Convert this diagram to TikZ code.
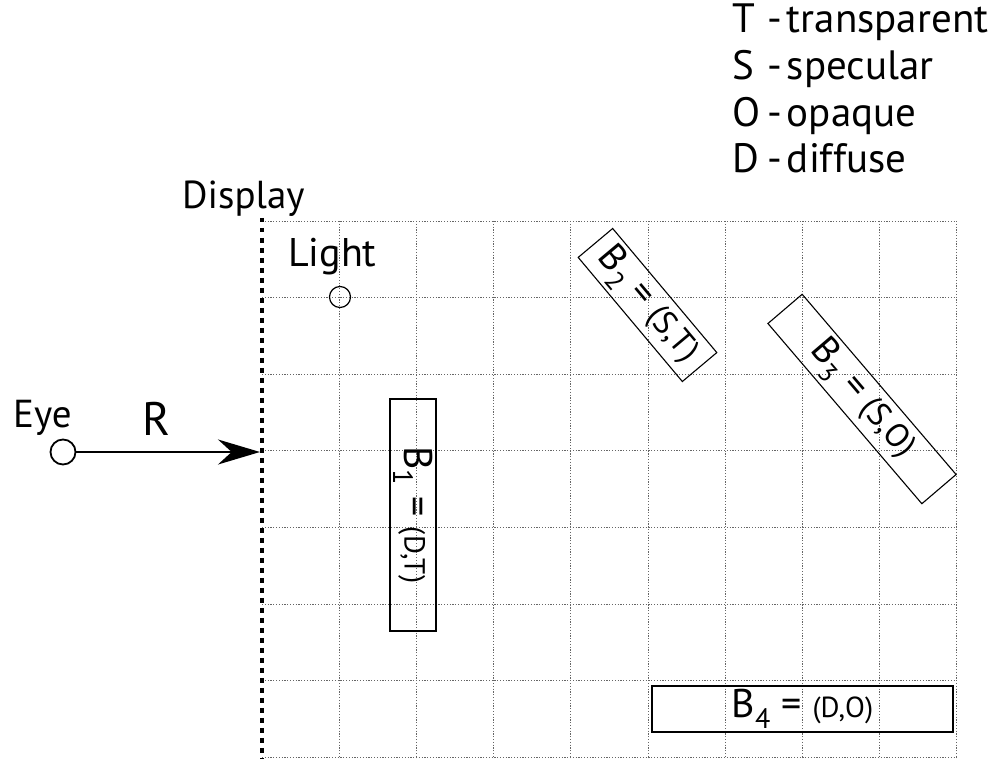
\documentclass[tikz,border=0pt]{standalone}
\usepackage{fontspec}
\setmainfont{PT Sans}
\usetikzlibrary{arrows.meta}
\begin{document}
\begin{tikzpicture}[x=1pt,y=-1pt,
  lbl/.style={inner sep=0pt, anchor=base west},
  gridline/.style={black!60, line width=0.8pt, dash pattern=on 1.2pt off 1.6pt},
  boxnode/.style={draw, line width=1.1pt, inner sep=0pt},
  ring/.style={draw, circle, inner sep=0pt, line width=1.2pt}]
\useasboundingbox (0,0) rectangle (992,759);
% grid
\foreach \i in {1,...,9} \draw[gridline] (262+77.2*\i,221) -- (262+77.2*\i,759);
\foreach \j in {0,...,7} \draw[gridline] (262,221+76.6*\j) -- (957,221+76.6*\j);
% display line
\coordinate (dtop) at (262,218);
\coordinate (dbot) at (262,759);
\draw[line width=3.3pt, dash pattern=on 4.5pt off 5.5pt] (dtop) -- (dbot);
% legend
\node[lbl] (lt) at (732,33) {\fontsize{41}{46}\selectfont\makebox[35pt][l]{T}-\hspace{5pt}transparent};
\node[lbl] (ls) at (732,80) {\fontsize{41}{46}\selectfont\makebox[35pt][l]{S}-\hspace{5pt}specular};
\node[lbl] (lo) at (732,127) {\fontsize{41}{46}\selectfont\makebox[35pt][l]{O}-\hspace{5pt}opaque};
\node[lbl] (ld) at (732,173) {\fontsize{41}{46}\selectfont\makebox[35pt][l]{D}-\hspace{5pt}diffuse};
% labels
\node[lbl] (display) at (182,209) {\fontsize{39}{42}\selectfont Display};
\node[lbl] (lightlbl) at (288,266) {\fontsize{40}{44}\selectfont Light};
\node[lbl] (eyelbl) at (13,427) {\fontsize{39}{42}\selectfont Eye};
\node[lbl] (rlbl) at (142,435) {\fontsize{47}{50}\selectfont R};
% light and eye
\node[ring, minimum size=21pt] (light) at (340,297) {};
\node[ring, minimum size=25pt, line width=1.8pt] (eye) at (63,452) {};
\coordinate (hit) at (260,452);
\draw[line width=2pt, -{Stealth[length=42pt,width=25pt]}] (eye) -- (hit);
% boxes
\node[boxnode, minimum width=232pt, minimum height=46pt, rotate=-90] (b1) at (413,515)
  {{\fontsize{40}{42}\selectfont B\textsubscript{1} =\ }{\fontsize{29}{32}\selectfont (D,T)}};
\node[boxnode, minimum width=162pt, minimum height=45pt, rotate=-50] (b2) at (647.5,305)
  {{\fontsize{38}{40}\selectfont B\textsubscript{2} =\ }{\fontsize{33}{36}\selectfont (S,T)}};
\node[boxnode, minimum width=237pt, minimum height=45pt, rotate=-49.5] (b3) at (862,399)
  {{\fontsize{38}{40}\selectfont B\textsubscript{3} =\ }{\fontsize{33}{36}\selectfont (S,O)}};
\node[boxnode, minimum width=301pt, minimum height=46pt] (b4) at (802.5,709)
  {{\fontsize{40}{42}\selectfont B\textsubscript{4} =\ }{\fontsize{29}{32}\selectfont (D,O)}};
\end{tikzpicture}
\end{document}
